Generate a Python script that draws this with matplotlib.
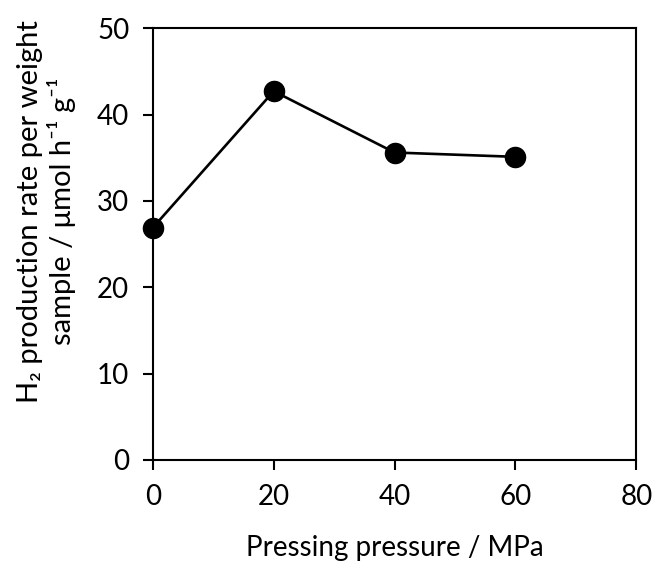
import numpy as np
import matplotlib
matplotlib.use('Agg')
import matplotlib.pyplot as plt

plt.rcParams['font.family'] = ['Lato', 'DejaVu Sans']

# data
pressure = [0, 20, 40, 60]
rate = [26.9, 42.7, 35.6, 35.1]
xticks = [0, 20, 40, 60, 80]
yticks = [0, 10, 20, 30, 40, 50]

fig = plt.figure(figsize=(6.56, 5.63), dpi=100)
ax = fig.add_axes([0.233, 0.183, 0.737, 0.767])

ax.plot(pressure, rate, color='black', linewidth=1.9, marker='o', markersize=14.5, clip_on=False, zorder=3)

ax.set_xlim(0, 80)
ax.set_ylim(0, 50)
ax.set_xticks(xticks)
ax.set_yticks(yticks)
for s in ax.spines.values():
    s.set_linewidth(1.5)
ax.tick_params(direction='out', length=7, width=1.5, labelsize=20, pad=10)

ax.set_xlabel('Pressing pressure / MPa', fontsize=20, labelpad=18)
ax.set_ylabel('H\u2082 production rate per weight\nsample / \u03bcmol h\u207b\u00b9 g\u207b\u00b9', fontsize=21)
ax.yaxis.set_label_coords(-0.158, 0.576)

fig.savefig('out.png', dpi=100)
